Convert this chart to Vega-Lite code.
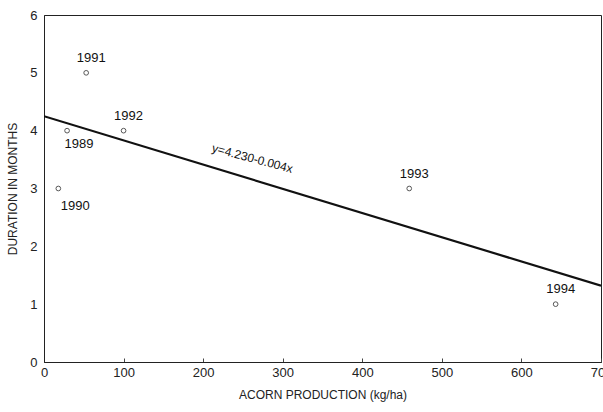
{
  "$schema": "https://vega.github.io/schema/vega-lite/v6.json",
  "autosize": "none",
  "padding": {"left": 44, "top": 15, "right": 2, "bottom": 50},
  "width": 557,
  "height": 347,
  "background": "white",
  "config": {
    "view": {"stroke": "#222", "strokeWidth": 1},
    "font": "Liberation Sans",
    "axis": {"grid": false, "domainColor": "#222", "tickColor": "#444", "labelColor": "#222", "titleColor": "#222", "labelFontSize": 13, "titleFontSize": 12, "titleFontWeight": "normal", "labelFont": "Liberation Sans", "titleFont": "Liberation Sans"}
  },
  "datasets": {
    "pts": [
      {"production": 29, "duration": 4, "year": "1989", "pos": "below"},
      {"production": 18, "duration": 3, "year": "1990", "pos": "below2"},
      {"production": 53, "duration": 5, "year": "1991", "pos": "above"},
      {"production": 100, "duration": 4, "year": "1992", "pos": "above"},
      {"production": 459, "duration": 3, "year": "1993", "pos": "above"},
      {"production": 643, "duration": 1, "year": "1994", "pos": "above"}
    ],
    "fit": [
      {"production": 0, "duration": 4.25},
      {"production": 700, "duration": 1.32}
    ],
    "eq": [
      {"production": 262, "duration": 3.52, "label": "y=4.230-0.004x"}
    ]
  },
  "layer": [
    {
      "data": {"name": "fit"},
      "mark": {"type": "line", "color": "#111", "strokeWidth": 2.2, "clip": true},
      "encoding": {
        "x": {"field": "production", "type": "quantitative", "scale": {"domain": [0, 700], "nice": false}, "axis": {"values": [0, 100, 200, 300, 400, 500, 600, 700], "format": "d", "title": "ACORN PRODUCTION (kg/ha)", "tickSize": -4, "labelPadding": 8, "titlePadding": 10, "labelFlush": false}},
        "y": {"field": "duration", "type": "quantitative", "scale": {"domain": [0, 6], "nice": false}, "axis": {"values": [0, 1, 2, 3, 4, 5, 6], "format": "d", "title": "DURATION IN MONTHS", "tickSize": 0, "labelPadding": 7, "titlePadding": 10, "labelFlush": false}}
      }
    },
    {
      "data": {"name": "pts"},
      "mark": {"type": "point", "shape": "circle", "filled": false, "color": "#111", "size": 22, "strokeWidth": 1},
      "encoding": {
        "x": {"field": "production", "type": "quantitative"},
        "y": {"field": "duration", "type": "quantitative"}
      }
    },
    {
      "data": {"name": "pts"},
      "transform": [{"filter": "datum.pos == 'above'"}],
      "mark": {"type": "text", "fontSize": 13, "color": "#111", "dy": -15, "dx": 5},
      "encoding": {
        "x": {"field": "production", "type": "quantitative"},
        "y": {"field": "duration", "type": "quantitative"},
        "text": {"field": "year"}
      }
    },
    {
      "data": {"name": "pts"},
      "transform": [{"filter": "datum.pos == 'below'"}],
      "mark": {"type": "text", "fontSize": 13, "color": "#111", "dy": 13, "dx": 12},
      "encoding": {
        "x": {"field": "production", "type": "quantitative"},
        "y": {"field": "duration", "type": "quantitative"},
        "text": {"field": "year"}
      }
    },
    {
      "data": {"name": "pts"},
      "transform": [{"filter": "datum.pos == 'below2'"}],
      "mark": {"type": "text", "fontSize": 13, "color": "#111", "dy": 17, "dx": 17},
      "encoding": {
        "x": {"field": "production", "type": "quantitative"},
        "y": {"field": "duration", "type": "quantitative"},
        "text": {"field": "year"}
      }
    },
    {
      "data": {"name": "eq"},
      "mark": {"type": "text", "fontSize": 12, "color": "#111", "angle": 15},
      "encoding": {
        "x": {"field": "production", "type": "quantitative"},
        "y": {"field": "duration", "type": "quantitative"},
        "text": {"field": "label"}
      }
    }
  ]
}
